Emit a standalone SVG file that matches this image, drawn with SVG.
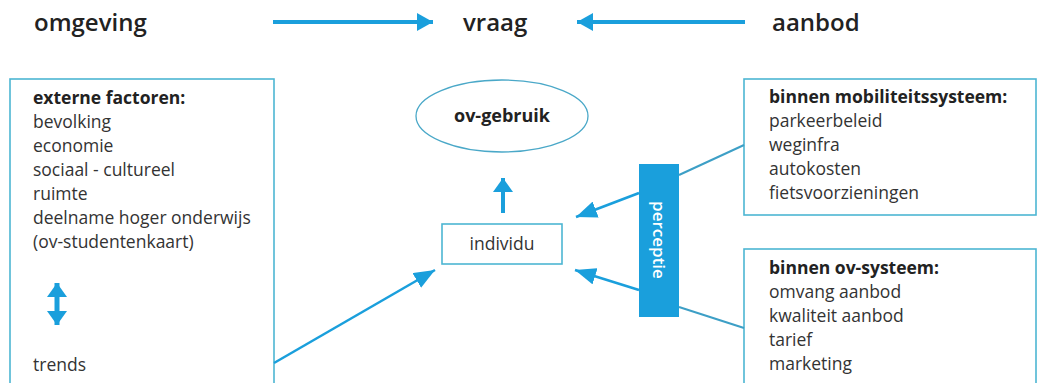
<svg xmlns="http://www.w3.org/2000/svg" width="1038" height="383" viewBox="0 0 1038 383">
<style>
text{font-family:"Open Sans","Noto Sans","Liberation Sans",sans-serif;fill:#333;}
.h{font-size:24px;font-weight:600;fill:#222;}
.t{font-size:17.5px;}
.b{font-weight:700;fill:#222;}
.box{fill:#fff;stroke:#4db6d3;stroke-width:1.6;}
.arr{stroke:#1a9fdc;fill:none;}
.ln{stroke:#3d9fc6;stroke-width:2;fill:none;}
</style>
<defs>
<marker id="hBig" markerUnits="userSpaceOnUse" viewBox="0 0 16 18" refX="16" refY="9" markerWidth="16" markerHeight="18" orient="auto"><path d="M0,0 L16,9 L0,18 Z" fill="#1a9fdc"/></marker>
<marker id="hUp" markerUnits="userSpaceOnUse" viewBox="0 0 14 20" refX="14" refY="10" markerWidth="14" markerHeight="20" orient="auto"><path d="M0,0 L14,10 L0,20 Z" fill="#1a9fdc"/></marker>
<marker id="hDiag" markerUnits="userSpaceOnUse" viewBox="0 0 21 17" refX="21" refY="8.5" markerWidth="21" markerHeight="17" orient="auto"><path d="M0,0 L21,8.5 L0,17 Z" fill="#1a9fdc"/></marker>
<marker id="hDbl" markerUnits="userSpaceOnUse" viewBox="0 0 14 20" refX="14" refY="10" markerWidth="14" markerHeight="20" orient="auto-start-reverse"><path d="M0,0 L14,10 L0,20 Z" fill="#1a9fdc"/></marker>
</defs>

<g id="header">
<text class="h" x="34" y="31">omgeving</text>
<text class="h" x="463" y="31">vraag</text>
<text class="h" x="772" y="31">aanbod</text>
</g>

<g id="omgeving">
<rect class="box" x="10" y="79" width="264" height="320"/>
<text class="t" x="33" y="104"><tspan class="b">externe factoren:</tspan><tspan x="33" dy="24">bevolking</tspan><tspan x="33" dy="24">economie</tspan><tspan x="33" dy="24">sociaal - cultureel</tspan><tspan x="33" dy="24">ruimte</tspan><tspan x="33" dy="24">deelname hoger onderwijs</tspan><tspan x="33" dy="24">(ov-studentenkaart)</tspan></text>
<line class="arr" x1="57" y1="283" x2="57" y2="325" stroke-width="5" marker-start="url(#hDbl)" marker-end="url(#hDbl)"/>
<text class="t" x="33" y="371">trends</text>
</g>

<g id="ov-gebruik">
<ellipse cx="502" cy="116" rx="86" ry="36" fill="#fff" stroke="#4aa8c8" stroke-width="1.3"/>
<text class="t b" x="502" y="122" text-anchor="middle" style="font-size:18px">ov-gebruik</text>
</g>

<g id="individu">
<rect class="box" x="442" y="224" width="120" height="40"/>
<text class="t" x="502" y="250" text-anchor="middle">individu</text>
</g>

<g id="perceptie">
<rect x="639" y="164" width="40" height="153" fill="#1a9fdc"/>
<text x="659" y="240" transform="rotate(90 659 240)" text-anchor="middle" dy="6" style="font-size:17px;font-weight:600;fill:#fff">perceptie</text>
</g>

<g id="mobiliteitssysteem">
<rect class="box" x="744" y="79" width="292" height="136"/>
<text class="t" x="769" y="103"><tspan class="b">binnen mobiliteitssysteem:</tspan><tspan x="769" dy="24">parkeerbeleid</tspan><tspan x="769" dy="24">weginfra</tspan><tspan x="769" dy="24">autokosten</tspan><tspan x="769" dy="24">fietsvoorzieningen</tspan></text>
</g>

<g id="ov-systeem">
<rect class="box" x="744" y="249" width="292" height="150"/>
<text class="t" x="769" y="274"><tspan class="b">binnen ov-systeem:</tspan><tspan x="769" dy="24">omvang aanbod</tspan><tspan x="769" dy="24">kwaliteit aanbod</tspan><tspan x="769" dy="24">tarief</tspan><tspan x="769" dy="24">marketing</tspan></text>
</g>

<g id="connectors">
<line class="arr" x1="273" y1="22" x2="433" y2="22" stroke-width="4" marker-end="url(#hBig)"/>
<line class="arr" x1="745" y1="22" x2="577" y2="22" stroke-width="4" marker-end="url(#hBig)"/>
<line class="arr" x1="503" y1="213" x2="503" y2="178" stroke-width="4" marker-end="url(#hUp)"/>
<line class="arr" x1="274" y1="363" x2="435" y2="270" stroke-width="2.5" marker-end="url(#hDiag)"/>
<line class="arr" x1="639" y1="193" x2="576" y2="217" stroke-width="2.5" marker-end="url(#hDiag)"/>
<line class="arr" x1="639" y1="290" x2="575" y2="270" stroke-width="2.5" marker-end="url(#hDiag)"/>
<line class="ln" x1="679" y1="175" x2="744" y2="145"/>
<line class="ln" x1="679" y1="307" x2="744" y2="328"/>
</g>
</svg>
